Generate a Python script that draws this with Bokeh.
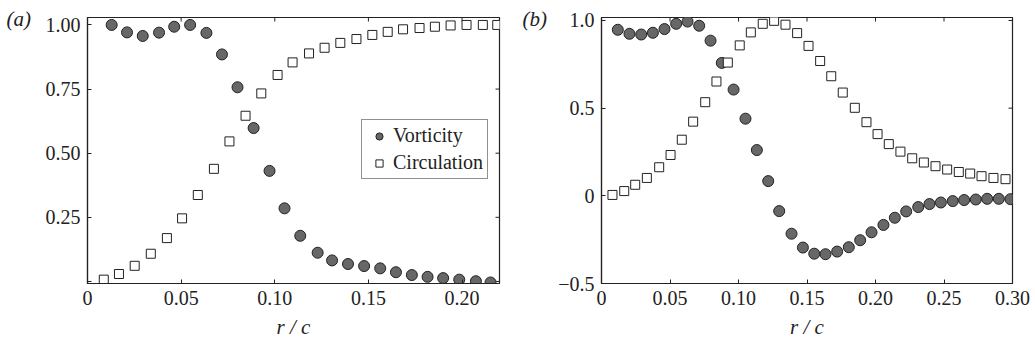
import math
from bokeh.plotting import figure
from bokeh.layouts import row
from bokeh.models import Range1d, FixedTicker, Legend, LegendItem, Title
from bokeh.embed import file_html
from bokeh.resources import INLINE

# ---- panel (a) ----
a_vort_r = [0.0129, 0.0211, 0.0295, 0.0382, 0.0463, 0.0548, 0.0635, 0.0718, 0.0801,
            0.0887, 0.0972, 0.1052, 0.1136, 0.1229, 0.1306, 0.1391, 0.1477, 0.1563,
            0.1647, 0.1732, 0.1816, 0.1899, 0.1985, 0.2074, 0.2152]
a_vort = [1.00, 0.971, 0.957, 0.970, 0.993, 1.00, 0.969, 0.885, 0.757, 0.598, 0.431,
          0.285, 0.178, 0.112, 0.082, 0.068, 0.060, 0.051, 0.036, 0.025, 0.018, 0.013,
          0.007, 0.001, -0.004]
a_circ_r = [0.0087, 0.0168, 0.0252, 0.0338, 0.0424, 0.0505, 0.0589, 0.0675, 0.0758,
            0.0844, 0.0928, 0.1015, 0.1095, 0.1183, 0.1266, 0.1350, 0.1436, 0.1521,
            0.1603, 0.1685, 0.1773, 0.1855, 0.1939, 0.2024, 0.2111, 0.2188]
a_circ = [0.007, 0.029, 0.061, 0.108, 0.169, 0.246, 0.337, 0.439, 0.546, 0.646, 0.733,
          0.805, 0.854, 0.889, 0.911, 0.930, 0.945, 0.961, 0.973, 0.983, 0.988, 0.993,
          0.998, 1.00, 1.00, 1.00]

# ---- panel (b) ----
b_vort_r = [0.0119, 0.0204, 0.0290, 0.0375, 0.0460, 0.0545, 0.0628, 0.0713, 0.0796,
            0.0878, 0.0964, 0.1051, 0.1134, 0.1217, 0.1297, 0.1387, 0.1470, 0.1553,
            0.1635, 0.1720, 0.1805, 0.1888, 0.1971, 0.2058, 0.2141, 0.2224, 0.2312,
            0.2394, 0.2477, 0.2564, 0.2647, 0.2732, 0.2815, 0.2900, 0.2985]
b_vort = [0.947, 0.924, 0.920, 0.930, 0.951, 0.981, 0.994, 0.970, 0.885, 0.758, 0.606,
          0.440, 0.261, 0.084, -0.087, -0.216, -0.295, -0.330, -0.333, -0.318, -0.293,
          -0.253, -0.208, -0.166, -0.125, -0.089, -0.064, -0.047, -0.038, -0.030,
          -0.024, -0.021, -0.017, -0.017, -0.019]
b_circ_r = [0.0080, 0.0166, 0.0246, 0.0331, 0.0421, 0.0504, 0.0586, 0.0669, 0.0757,
            0.0839, 0.0922, 0.1009, 0.1090, 0.1177, 0.1260, 0.1343, 0.1428, 0.1511,
            0.1596, 0.1677, 0.1761, 0.1849, 0.1934, 0.2015, 0.2097, 0.2182, 0.2268,
            0.2353, 0.2438, 0.2523, 0.2608, 0.2691, 0.2774, 0.2861, 0.2949]
b_circ = [0.005, 0.027, 0.063, 0.102, 0.163, 0.233, 0.320, 0.423, 0.534, 0.652, 0.760,
          0.858, 0.932, 0.981, 0.998, 0.976, 0.928, 0.855, 0.769, 0.682, 0.589, 0.502,
          0.420, 0.352, 0.295, 0.252, 0.214, 0.190, 0.169, 0.150, 0.136, 0.127, 0.112,
          0.102, 0.095]

a_xticks = [0, 0.05, 0.10, 0.15, 0.20]
a_yticks = [0, 0.25, 0.5, 0.75, 1.0]
a_ylabels = {0: "", 0.25: "0.25", 0.5: "0.50", 0.75: "0.75", 1.0: "1.00"}
b_xticks = [0, 0.05, 0.10, 0.15, 0.20, 0.25, 0.30]
b_yticks = [-0.5, 0, 0.5, 1.0]
b_ylabels = {-0.5: "\u22120.5", 0: "0", 0.5: "0.5", 1.0: "1.0"}
x_labels = {0: "0", 0.05: "0.05", 0.1: "0.10", 0.15: "0.15", 0.2: "0.20",
            0.25: "0.25", 0.3: "0.30"}

SERIF = "Liberation Serif"
INK = "#222222"
DOT_FILL = "#676767"


def style_axis(ax, ticks, labels):
    ax.ticker = FixedTicker(ticks=ticks)
    ax.major_label_overrides = labels
    ax.minor_tick_line_color = None
    ax.major_tick_in = 4
    ax.major_tick_out = 0
    ax.major_tick_line_color = INK
    ax.axis_line_color = INK
    ax.axis_line_width = 1.2
    ax.major_label_text_font = SERIF
    ax.major_label_text_font_size = "20px"
    ax.major_label_text_color = INK
    ax.major_label_standoff = 7


def make_panel(xr, yr, xticks, yticks, ylabels, ml, mr, fw, tag, tag_offset):
    p = figure(width=ml + fw + mr, height=346, frame_width=fw, frame_height=266,
               x_range=Range1d(*xr), y_range=Range1d(*yr),
               output_backend="svg", toolbar_location=None,
               min_border_left=ml, min_border_right=mr,
               min_border_top=17, min_border_bottom=63,
               x_axis_label="r / c")
    p.grid.visible = False
    p.outline_line_color = INK
    p.outline_line_width = 1.2
    p.background_fill_color = "white"
    p.border_fill_color = "white"
    style_axis(p.xaxis[0], xticks, x_labels)
    style_axis(p.yaxis[0], yticks, ylabels)
    p.xaxis.axis_label_text_font = SERIF
    p.xaxis.axis_label_text_font_style = "italic"
    p.xaxis.axis_label_text_font_size = "21px"
    p.xaxis.axis_label_text_color = INK
    p.xaxis.axis_label_standoff = 7
    # mirrored inward ticks on the top and right edges of the box
    p.scatter(xticks, [yr[1]] * len(xticks), marker="dash", angle=math.pi / 2,
              size=8, line_color=INK, line_width=1)
    p.scatter([xr[1]] * len(yticks), yticks, marker="dash",
              size=8, line_color=INK, line_width=1)
    p.add_layout(Title(text=tag, align="left", offset=tag_offset, standoff=-27,
                       text_font=SERIF, text_font_style="italic",
                       text_font_size="21px", text_color=INK), "above")
    return p


def add_series(p, vr, v, cr, c):
    rv = p.scatter(vr, v, marker="circle", size=11, fill_color=DOT_FILL,
                   line_color=INK, line_width=1)
    rc = p.scatter(cr, c, marker="square", size=9, fill_color="white",
                   line_color=INK, line_width=1)
    return rv, rc


pa = make_panel((0, 0.22), (-0.008, 1.029), a_xticks, a_yticks, a_ylabels,
                87, 21, 412, "(a)", -81)
rv, rc = add_series(pa, a_vort_r, a_vort, a_circ_r, a_circ)
legend = Legend(items=[LegendItem(label="Vorticity", renderers=[rv]),
                       LegendItem(label="Circulation", renderers=[rc])],
                location=(274, 104), label_text_font=SERIF, label_text_font_size="20px",
                label_text_color=INK, border_line_color=INK, border_line_width=1,
                glyph_width=26, glyph_height=18, padding=4, spacing=4,
                label_standoff=1, margin=0, label_height=18)
pa.add_layout(legend, "center")

pb = make_panel((0, 0.30), (-0.5, 1.017), b_xticks, b_yticks, b_ylabels,
                81, 23, 411, "(b)", -79)
add_series(pb, b_vort_r, b_vort, b_circ_r, b_circ)

layout = row(pa, pb)
open("out.html", "w").write(file_html(layout, INLINE))
